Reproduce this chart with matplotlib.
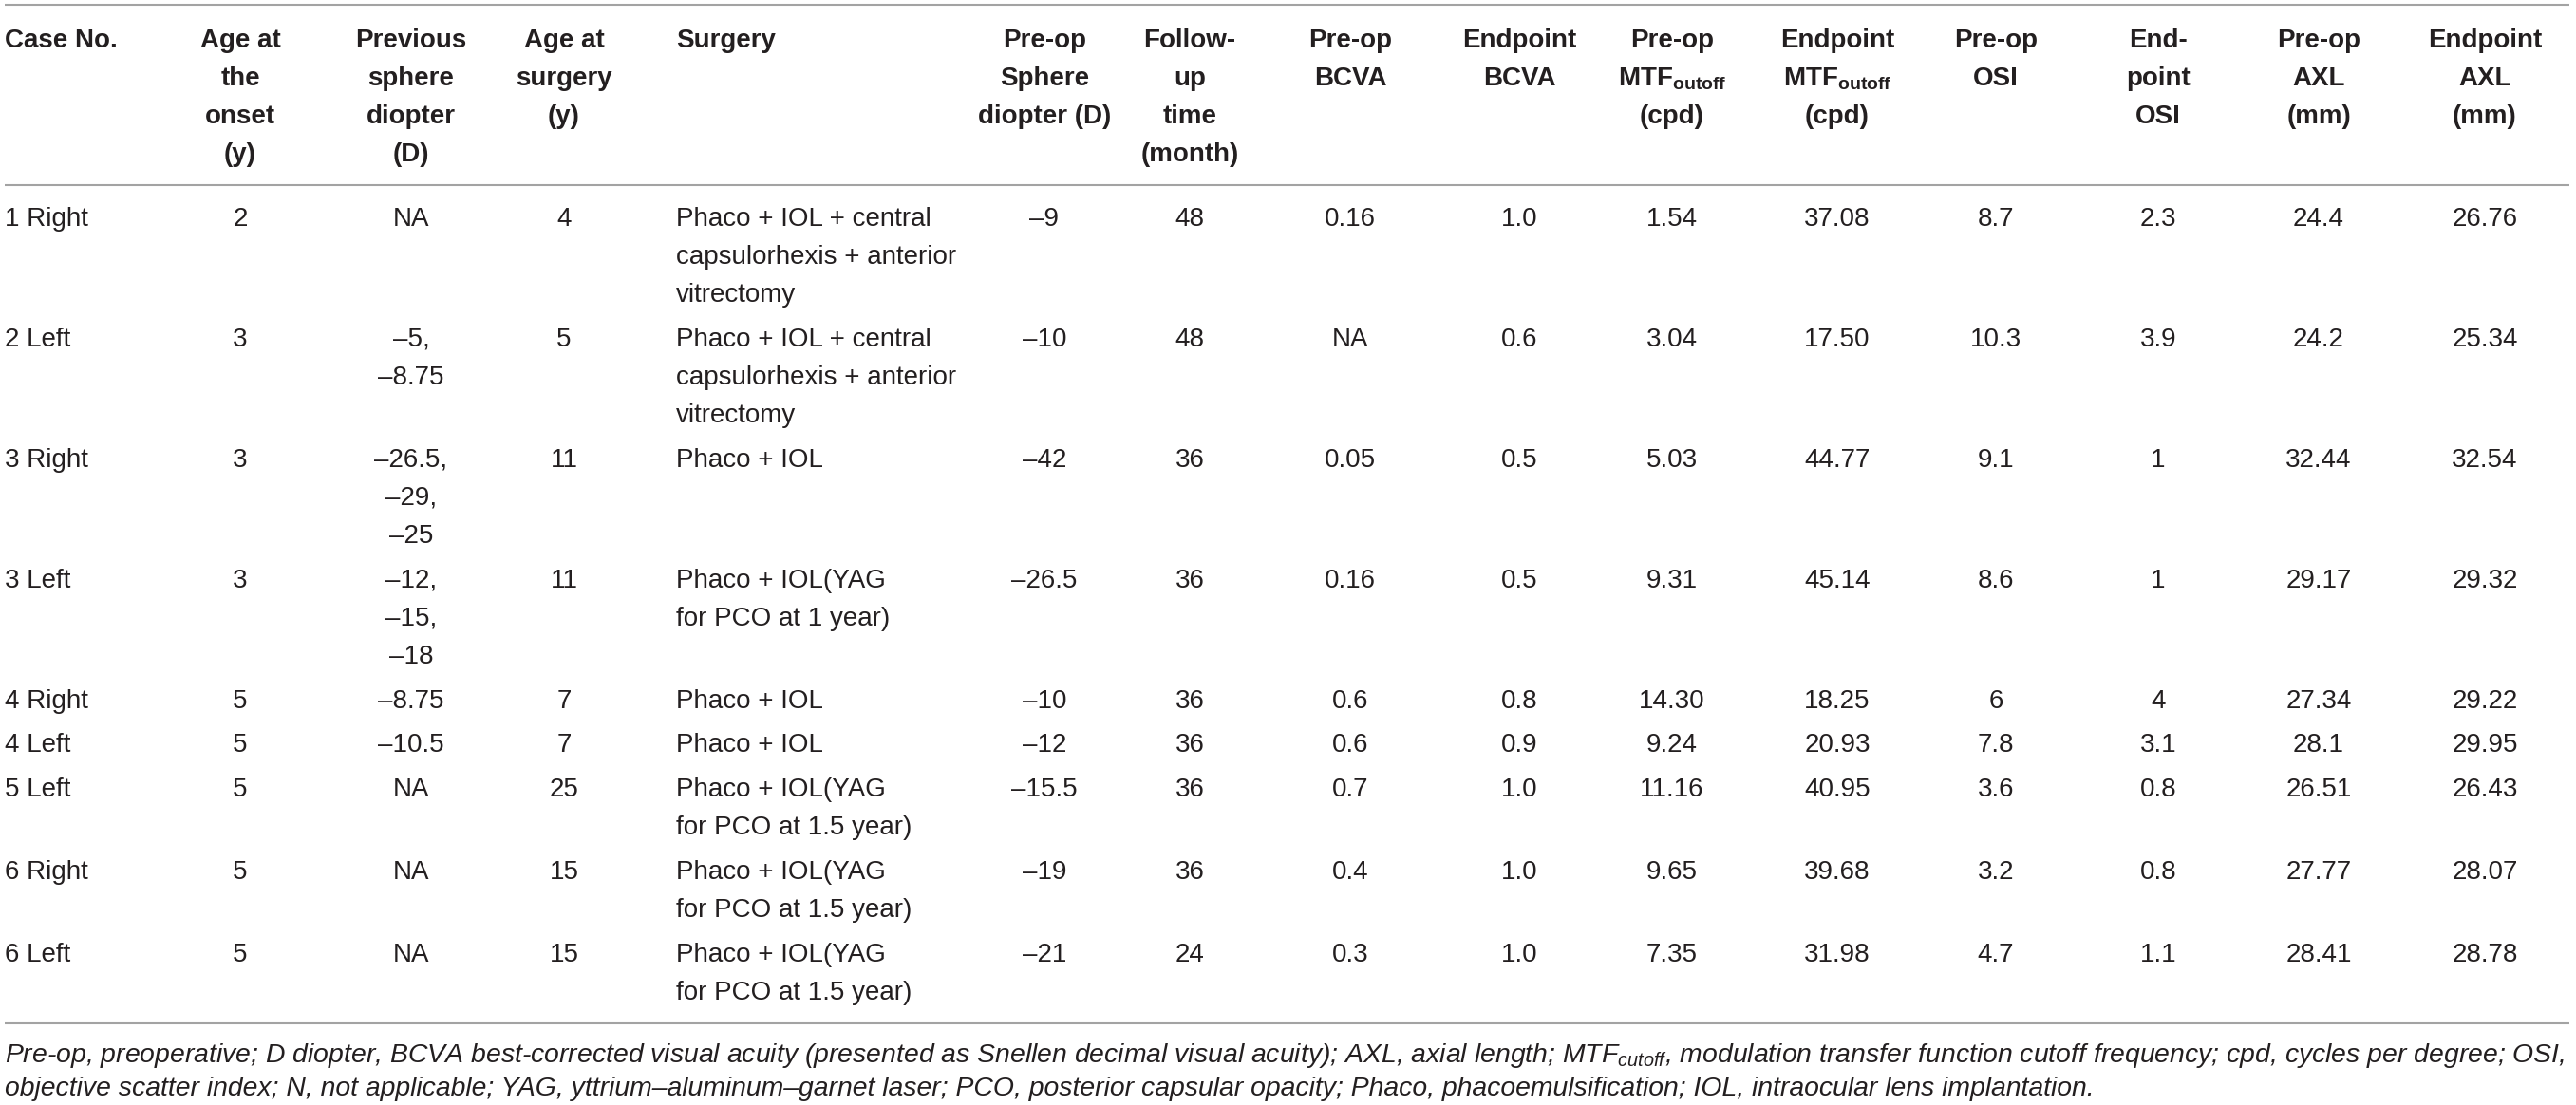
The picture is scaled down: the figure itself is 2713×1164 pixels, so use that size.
import matplotlib
matplotlib.use("Agg")
import matplotlib.pyplot as plt

plt.rcParams['font.family'] = ['Liberation Sans', 'DejaVu Sans']
plt.rcParams['mathtext.fontset'] = 'custom'
plt.rcParams['mathtext.rm'] = 'Liberation Sans'
plt.rcParams['mathtext.it'] = 'Liberation Sans:italic'
plt.rcParams['mathtext.bf'] = 'Liberation Sans:bold'

# table content
headers = [
    ["Case No."],
    ["Age at", "the", "onset", "(y)"],
    ["Previous", "sphere", "diopter", "(D)"],
    ["Age at", "surgery", "(y)"],
    ["Surgery"],
    ["Pre-op", "Sphere", "diopter (D)"],
    ["Follow-", "up", "time", "(month)"],
    ["Pre-op", "BCVA"],
    ["Endpoint", "BCVA"],
    ["Pre-op", r"MTF$_{\mathbf{outoff}}$", "(cpd)"],
    ["Endpoint", r"MTF$_{\mathbf{outoff}}$", "(cpd)"],
    ["Pre-op", "OSI"],
    ["End-", "point", "OSI"],
    ["Pre-op", "AXL", "(mm)"],
    ["Endpoint", "AXL", "(mm)"],
]

case_no = ["1 Right", "2 Left", "3 Right", "3 Left", "4 Right", "4 Left",
           "5 Left", "6 Right", "6 Left"]
age_onset = ["2", "3", "3", "3", "5", "5", "5", "5", "5"]
prev_sphere = [["NA"], ["–5,", "–8.75"], ["–26.5,", "–29,", "–25"],
               ["–12,", "–15,", "–18"], ["–8.75"], ["–10.5"], ["NA"], ["NA"], ["NA"]]
age_surgery = ["4", "5", "11", "11", "7", "7", "25", "15", "15"]
surgery = [
    ["Phaco + IOL + central", "capsulorhexis + anterior", "vitrectomy"],
    ["Phaco + IOL + central", "capsulorhexis + anterior", "vitrectomy"],
    ["Phaco + IOL"],
    ["Phaco + IOL(YAG", "for PCO at 1 year)"],
    ["Phaco + IOL"],
    ["Phaco + IOL"],
    ["Phaco + IOL(YAG", "for PCO at 1.5 year)"],
    ["Phaco + IOL(YAG", "for PCO at 1.5 year)"],
    ["Phaco + IOL(YAG", "for PCO at 1.5 year)"],
]
preop_sphere = ["–9", "–10", "–42", "–26.5", "–10", "–12", "–15.5", "–19", "–21"]
follow_up = ["48", "48", "36", "36", "36", "36", "36", "36", "24"]
pre_bcva = ["0.16", "NA", "0.05", "0.16", "0.6", "0.6", "0.7", "0.4", "0.3"]
end_bcva = ["1.0", "0.6", "0.5", "0.5", "0.8", "0.9", "1.0", "1.0", "1.0"]
pre_mtf = ["1.54", "3.04", "5.03", "9.31", "14.30", "9.24", "11.16", "9.65", "7.35"]
end_mtf = ["37.08", "17.50", "44.77", "45.14", "18.25", "20.93", "40.95", "39.68", "31.98"]
pre_osi = ["8.7", "10.3", "9.1", "8.6", "6", "7.8", "3.6", "3.2", "4.7"]
end_osi = ["2.3", "3.9", "1", "1", "4", "3.1", "0.8", "0.8", "1.1"]
pre_axl = ["24.4", "24.2", "32.44", "29.17", "27.34", "28.1", "26.51", "27.77", "28.41"]
end_axl = ["26.76", "25.34", "32.54", "29.32", "29.22", "29.95", "26.43", "28.07", "28.78"]

footnote = [
    "Pre-op, preoperative; D diopter, BCVA best-corrected visual acuity (presented as Snellen "
    "decimal visual acuity); AXL, axial length; MTF$_{\\mathit{cutoff}}$, modulation transfer "
    "function cutoff frequency; cpd, cycles per degree; OSI,",
    "objective scatter index; N, not applicable; YAG, yttrium–aluminum–garnet laser; PCO, "
    "posterior capsular opacity; Phaco, phacoemulsification; IOL, intraocular lens implantation.",
]

columns = [case_no, age_onset, prev_sphere, age_surgery, surgery, preop_sphere,
           follow_up, pre_bcva, end_bcva, pre_mtf, end_mtf, pre_osi, end_osi,
           pre_axl, end_axl]

# layout (pixel coordinates)
col_x = [5, 253, 433, 594, 712, 1100, 1253, 1422, 1600, 1761, 1935, 2102, 2273, 2442, 2617]
col_ha = ['left', 'center', 'center', 'center', 'left'] + ['center'] * 10
W, H = 2713, 1164
line_h = 40
row_pad = 6.9
txt = '#231f20'
rule = '#a3a3a3'
fs = 20

fig = plt.figure(figsize=(W / 100, H / 100), dpi=100)
ax = fig.add_axes([0, 0, 1, 1])
ax.set_xlim(0, W)
ax.set_ylim(H, 0)
ax.axis('off')

for y in (5, 195, 1078):
    ax.plot([5, 2706], [y, y], color=rule, lw=1.5, solid_capstyle='butt')

for x, ha, lines in zip(col_x, col_ha, headers):
    for k, s in enumerate(lines):
        ax.text(x, 43 + k * line_h, s, ha=ha, va='center', fontsize=fs,
                fontweight='bold', color=txt)

y0 = 231
for r in range(len(case_no)):
    nlines = 1
    for x, ha, col in zip(col_x, col_ha, columns):
        cell = col[r] if isinstance(col[r], list) else [col[r]]
        nlines = max(nlines, len(cell))
        for k, s in enumerate(cell):
            ax.text(x, y0 + k * line_h, s, ha=ha, va='center', fontsize=fs, color=txt)
    y0 += nlines * line_h + row_pad

for k, s in enumerate(footnote):
    ax.text(5, 1112 + k * 35, s, ha='left', va='center', fontsize=20.45,
            style='italic', color=txt)

fig.savefig("out.png", dpi=100)
